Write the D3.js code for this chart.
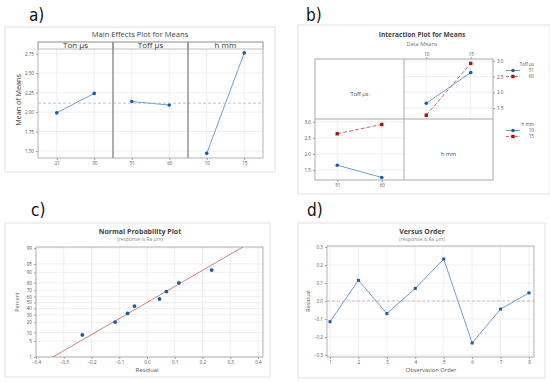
<!DOCTYPE html>
<html>
<head>
<meta charset="utf-8">
<script src="https://cdnjs.cloudflare.com/ajax/libs/d3/7.8.5/d3.min.js"></script>
<style>
  body { margin: 0; background: #fff; }
  svg { display: block; }
</style>
</head>
<body>
<script>
// ---- data ----
var factorNames = ["Ton µs", "Toff µs", "h mm"];
var factorLevels = [["21", "30"], ["51", "60"], ["10", "15"]];
var factorMeans = [[1.99, 2.24], [2.135, 2.09], [1.47, 2.76]];
var grandMean = 2.115;
var meanTicks = [1.5, 1.75, 2.0, 2.25, 2.5, 2.75];

var toffLevels = ["51", "60"];
var hLevels = ["10", "15"];
// cell means: rows Toff 51 / 60, columns h 10 / 15
var toff51Means = [1.65, 2.63];
var toff60Means = [1.27, 2.92];
var interTicks = [1.5, 2.0, 2.5, 3.0];

var observationOrder = [1, 2, 3, 4, 5, 6, 7, 8];
var residuals = [-0.115, 0.115, -0.07, 0.07, 0.233, -0.233, -0.045, 0.045];
var plotPercents = [8.3, 20.2, 32.1, 44.0, 55.9, 67.9, 79.8, 91.7];
var percentTicks = [1, 5, 10, 20, 30, 40, 50, 60, 70, 80, 90, 95, 99];
var residualTicks = [-0.4, -0.3, -0.2, -0.1, 0.0, 0.1, 0.2, 0.3, 0.4];
var orderResidualTicks = [-0.3, -0.2, -0.1, 0.0, 0.1, 0.2, 0.3];

var blueDot = "#1b5aa6", blueLine = "#6fa0d0";
var redDot = "#a31515", redLine = "#c46a6a";
var gridCol = "#e6e6e6", frameCol = "#a0a0a0", textCol = "#555";

var svg = d3.select("body").append("svg")
  .attr("width", 550).attr("height", 382)
  .style("font-family", "'Open Sans', 'Noto Sans', sans-serif");

function label(g, x, y, s, size, opt) {
  opt = opt || {};
  return g.append("text")
    .attr("x", x).attr("y", y)
    .attr("text-anchor", opt.anchor || "middle")
    .attr("font-size", size)
    .attr("font-weight", opt.weight || "normal")
    .attr("fill", opt.fill || textCol)
    .attr("transform", opt.rotate ? "rotate(-90," + x + "," + y + ")" : null)
    .text(s);
}

function styleAxis(g) {
  g.select(".domain").remove();
  g.selectAll(".tick line").attr("stroke", frameCol);
  g.selectAll(".tick text").attr("fill", textCol).attr("font-size", 4.6)
    .attr("font-family", "'Open Sans', sans-serif");
}

function panelLetter(x, y, s) {
  svg.append("text").attr("x", x).attr("y", y)
    .attr("font-size", 17)
    .attr("font-family", "'Liberation Sans Narrow', 'DejaVu Sans Condensed', sans-serif")
    .attr("fill", "#111").text(s);
}

function outerBox(x, y, w, h) {
  svg.append("rect").attr("x", x).attr("y", y).attr("width", w).attr("height", h)
    .attr("fill", "#fff").attr("stroke", "#e2e2e2").attr("stroke-width", 1);
}

// ================= a) Main Effects =================
panelLetter(29, 21, "a)");
outerBox(5, 27, 270, 145);
label(svg, 140, 37, "Main Effects Plot for Means", 7.6, { fill: "#444" });

var aTop = 42, aBot = 158, strip = 7;
var panelX = d3.scaleBand().domain(factorNames).range([38, 263]);
var ya = d3.scaleLinear().domain([1.41, 2.81]).range([aBot, aTop + strip]);

var ga = svg.append("g");
ga.selectAll(".hgrid").data(meanTicks).enter().append("line")
  .attr("x1", 38).attr("x2", 263)
  .attr("y1", function (d) { return ya(d); }).attr("y2", function (d) { return ya(d); })
  .attr("stroke", gridCol).attr("stroke-width", 0.6);

factorNames.forEach(function (name, i) {
  var x0 = panelX(name);
  var xs = d3.scalePoint().domain(factorLevels[i]).range([x0, x0 + panelX.bandwidth()]).padding(0.5);
  factorLevels[i].forEach(function (lv) {
    ga.append("line").attr("x1", xs(lv)).attr("x2", xs(lv))
      .attr("y1", aTop + strip).attr("y2", aBot)
      .attr("stroke", gridCol).attr("stroke-width", 0.6);
  });
  ga.append("g").attr("transform", "translate(0," + aBot + ")")
    .call(d3.axisBottom(xs).tickSize(2).tickPadding(2)).call(styleAxis);
  var pts = factorLevels[i].map(function (lv, j) { return [xs(lv), ya(factorMeans[i][j])]; });
  ga.append("path").attr("d", d3.line()(pts)).attr("fill", "none")
    .attr("stroke", blueLine).attr("stroke-width", 1);
  ga.selectAll(null).data(pts).enter().append("circle")
    .attr("cx", function (d) { return d[0]; }).attr("cy", function (d) { return d[1]; })
    .attr("r", 1.8).attr("fill", blueDot);
  // strip header
  ga.append("rect").attr("x", x0).attr("y", aTop).attr("width", panelX.bandwidth()).attr("height", strip)
    .attr("fill", "#fff").attr("stroke", frameCol).attr("stroke-width", 0.7);
  label(ga, x0 + panelX.bandwidth() / 2, aTop + 6.3, name, 8, { fill: "#333" });
});

ga.append("line").attr("x1", 38).attr("x2", 263)
  .attr("y1", ya(grandMean)).attr("y2", ya(grandMean))
  .attr("stroke", "#aaa").attr("stroke-width", 0.7).attr("stroke-dasharray", "3,2");

ga.append("rect").attr("x", 38).attr("y", aTop).attr("width", 225).attr("height", aBot - aTop)
  .attr("fill", "none").attr("stroke", frameCol).attr("stroke-width", 0.8);
factorNames.slice(1).forEach(function (name) {
  ga.append("line").attr("x1", panelX(name)).attr("x2", panelX(name))
    .attr("y1", aTop).attr("y2", aBot).attr("stroke", "#8a8a8a").attr("stroke-width", 1.4);
});
ga.append("g").attr("transform", "translate(38,0)")
  .call(d3.axisLeft(ya).tickValues(meanTicks).tickFormat(d3.format(".2f")).tickSize(2).tickPadding(2))
  .call(styleAxis);
label(svg, 21, 100, "Mean of Means", 7.2, { rotate: true, fill: "#333" });

// ================= b) Interaction =================
panelLetter(306, 21, "b)");
outerBox(298, 25, 252, 169);
label(svg, 422, 37, "Interaction Plot for Means", 6.6, { weight: "bold", fill: "#444" });
label(svg, 422, 45.5, "Data Means", 5.6, { fill: "#777" });

var bL = 315, bM = 404, bR = 493, bT = 59, bC = 119, bB = 180;
var gb = svg.append("g");

// top-right: mean vs h, lines by Toff
var xTR = d3.scalePoint().domain(hLevels).range([bM, bR]).padding(0.5);
var yTR = d3.scaleLinear().domain([1.15, 3.06]).range([bC, bT]);
// bottom-left: mean vs Toff, lines by h
var xBL = d3.scalePoint().domain(toffLevels).range([bL, bM]).padding(0.5);
var yBL = d3.scaleLinear().domain([1.19, 3.09]).range([bB, bC]);

function cellGrid(xs, ys, x0, x1, y0, y1) {
  interTicks.forEach(function (t) {
    if (ys(t) > y0 && ys(t) < y1)
      gb.append("line").attr("x1", x0).attr("x2", x1).attr("y1", ys(t)).attr("y2", ys(t))
        .attr("stroke", gridCol).attr("stroke-width", 0.6);
  });
  xs.domain().forEach(function (lv) {
    gb.append("line").attr("x1", xs(lv)).attr("x2", xs(lv)).attr("y1", y0).attr("y2", y1)
      .attr("stroke", gridCol).attr("stroke-width", 0.6);
  });
}
cellGrid(xTR, yTR, bM, bR, bT, bC);
cellGrid(xBL, yBL, bL, bM, bC, bB);

function series(xs, ys, levels, vals, col, dot, dashed, square) {
  var pts = levels.map(function (lv, j) { return [xs(lv), ys(vals[j])]; });
  gb.append("path").attr("d", d3.line()(pts)).attr("fill", "none")
    .attr("stroke", col).attr("stroke-width", 1)
    .attr("stroke-dasharray", dashed ? "4,2" : null);
  pts.forEach(function (p) {
    if (square) gb.append("rect").attr("x", p[0] - 1.7).attr("y", p[1] - 1.7).attr("width", 3.4).attr("height", 3.4).attr("fill", dot);
    else gb.append("circle").attr("cx", p[0]).attr("cy", p[1]).attr("r", 1.8).attr("fill", dot);
  });
}
series(xTR, yTR, hLevels, toff51Means, blueLine, blueDot, false, false);
series(xTR, yTR, hLevels, toff60Means, redLine, redDot, true, true);
series(xBL, yBL, toffLevels, [toff51Means[0], toff60Means[0]], blueLine, blueDot, false, false);
series(xBL, yBL, toffLevels, [toff51Means[1], toff60Means[1]], redLine, redDot, true, true);

gb.append("rect").attr("x", bL).attr("y", bT).attr("width", bR - bL).attr("height", bB - bT)
  .attr("fill", "none").attr("stroke", frameCol).attr("stroke-width", 0.9);
gb.append("line").attr("x1", bM).attr("x2", bM).attr("y1", bT).attr("y2", bB).attr("stroke", frameCol).attr("stroke-width", 0.9);
gb.append("line").attr("x1", bL).attr("x2", bR).attr("y1", bC).attr("y2", bC).attr("stroke", frameCol).attr("stroke-width", 0.9);

gb.append("g").attr("transform", "translate(0," + bT + ")")
  .call(d3.axisTop(xTR).tickSize(2).tickPadding(1.5)).call(styleAxis);
gb.append("g").attr("transform", "translate(" + bR + ",0)")
  .call(d3.axisRight(yTR).tickValues(interTicks).tickFormat(d3.format(".1f")).tickSize(2).tickPadding(2)).call(styleAxis);
gb.append("g").attr("transform", "translate(" + bL + ",0)")
  .call(d3.axisLeft(yBL).tickValues(interTicks).tickFormat(d3.format(".1f")).tickSize(2).tickPadding(2)).call(styleAxis);
gb.append("g").attr("transform", "translate(0," + bB + ")")
  .call(d3.axisBottom(xBL).tickSize(2).tickPadding(1.5)).call(styleAxis);

label(gb, (bL + bM) / 2, 96, "Toff µs", 5.6, { fill: "#444" });
label(gb, (bM + bR) / 2, 156, "h mm", 5.6, { fill: "#444" });

function legend(y, title, levels) {
  label(gb, 534, y, title, 4.6, { anchor: "end", fill: "#555" });
  levels.forEach(function (lv, j) {
    var yy = y + 6 + j * 6;
    var col = j === 0 ? blueLine : redLine, dot = j === 0 ? blueDot : redDot;
    gb.append("line").attr("x1", 506).attr("x2", 520).attr("y1", yy - 1.5).attr("y2", yy - 1.5)
      .attr("stroke", col).attr("stroke-width", 1).attr("stroke-dasharray", j === 0 ? null : "3,1.5");
    if (j === 0) gb.append("circle").attr("cx", 513).attr("cy", yy - 1.5).attr("r", 1.8).attr("fill", dot);
    else gb.append("rect").attr("x", 511.3).attr("y", yy - 3.2).attr("width", 3.4).attr("height", 3.4).attr("fill", dot);
    label(gb, 534, yy, lv, 4.6, { anchor: "end", fill: "#555" });
  });
}
legend(66, "Toff µs", toffLevels);
legend(126, "h mm", hLevels);

// ================= c) Normal probability =================
function probit(p) {
  var a = [-39.69683028665376, 220.9460984245205, -275.9285104469687, 138.3577518672690, -30.66479806614716, 2.506628277459239];
  var b = [-54.47609879822406, 161.5858368580409, -155.6989798598866, 66.80131188771972, -13.28068155288572];
  var c = [-0.007784894002430293, -0.3223964580411365, -2.400758277161838, -2.549732539343734, 4.374664141464968, 2.938163982698783];
  var d = [0.007784695709041462, 0.3224671290700398, 2.445134137142996, 3.754408661907416];
  var q, r;
  if (p < 0.02425) {
    q = Math.sqrt(-2 * Math.log(p));
    return (((((c[0] * q + c[1]) * q + c[2]) * q + c[3]) * q + c[4]) * q + c[5]) / ((((d[0] * q + d[1]) * q + d[2]) * q + d[3]) * q + 1);
  }
  if (p > 1 - 0.02425) return -probit(1 - p);
  q = p - 0.5; r = q * q;
  return (((((a[0] * r + a[1]) * r + a[2]) * r + a[3]) * r + a[4]) * r + a[5]) * q / (((((b[0] * r + b[1]) * r + b[2]) * r + b[3]) * r + b[4]) * r + 1);
}

panelLetter(31, 216, "c)");
outerBox(5, 223, 265, 154);
label(svg, 140, 233.5, "Normal Probability Plot", 7, { weight: "bold", fill: "#444" });
label(svg, 140, 241, "(response is Ra µm)", 5, { fill: "#888" });

var cL = 36, cR = 263, cT = 247, cB = 357;
var xc = d3.scaleLinear().domain([-0.4, 0.4]).range([36, 258]);
var zc = d3.scaleLinear().domain([probit(0.01), probit(0.99)]).range([cB, 248]);
function yc(pct) { return zc(probit(pct / 100)); }

var gc = svg.append("g");
residualTicks.forEach(function (t) {
  gc.append("line").attr("x1", xc(t)).attr("x2", xc(t)).attr("y1", cT).attr("y2", cB)
    .attr("stroke", gridCol).attr("stroke-width", 0.6);
});
percentTicks.forEach(function (t) {
  gc.append("line").attr("x1", cL).attr("x2", cR).attr("y1", yc(t)).attr("y2", yc(t))
    .attr("stroke", gridCol).attr("stroke-width", 0.6);
});

gc.append("clipPath").attr("id", "clipc").append("rect")
  .attr("x", cL).attr("y", cT).attr("width", cR - cL).attr("height", cB - cT);
var mu = d3.mean(residuals), sd = d3.deviation(residuals);
var zLo = zc.invert(cB + 2), zHi = zc.invert(cT - 2);
gc.append("path").attr("clip-path", "url(#clipc)")
  .attr("d", d3.line()([[xc(mu + sd * zLo), zc(zLo)], [xc(mu + sd * zHi), zc(zHi)]]))
  .attr("stroke", "#c98585").attr("stroke-width", 1).attr("fill", "none");

var sortedRes = d3.sort(residuals);
gc.selectAll(null).data(sortedRes).enter().append("circle")
  .attr("cx", function (d) { return xc(d); })
  .attr("cy", function (d, i) { return yc(plotPercents[i]); })
  .attr("r", 1.9).attr("fill", blueDot);

gc.append("rect").attr("x", cL).attr("y", cT).attr("width", cR - cL).attr("height", cB - cT)
  .attr("fill", "none").attr("stroke", frameCol).attr("stroke-width", 0.8);
gc.append("g").attr("transform", "translate(0," + cB + ")")
  .call(d3.axisBottom(xc).tickValues(residualTicks).tickFormat(d3.format(".1f")).tickSize(2).tickPadding(2))
  .call(styleAxis);
var yAxisC = d3.scaleLinear().domain(zc.domain()).range(zc.range());
gc.append("g").attr("transform", "translate(" + cL + ",0)")
  .call(d3.axisLeft(yAxisC).tickValues(percentTicks.map(function (p) { return probit(p / 100); }))
    .tickFormat(function (z, i) { return percentTicks[i]; }).tickSize(2).tickPadding(2))
  .call(styleAxis);
label(svg, 147, 372, "Residual", 5.8, { fill: "#555" });
label(svg, 19, 302, "Percent", 5.4, { rotate: true, fill: "#555" });

// ================= d) Versus order =================
panelLetter(307, 216, "d)");
outerBox(298, 223, 247, 155);
label(svg, 422, 233.5, "Versus Order", 7, { weight: "bold", fill: "#444" });
label(svg, 422, 241, "(response is Ra µm)", 5, { fill: "#888" });

var dL = 327, dR = 534, dT = 246, dB = 357;
var xd = d3.scaleLinear().domain([1, 8]).range([330, 529]);
var yd = d3.scaleLinear().domain([-0.3, 0.3]).range([355, 247]);
var gd = svg.append("g");
observationOrder.forEach(function (t) {
  gd.append("line").attr("x1", xd(t)).attr("x2", xd(t)).attr("y1", dT).attr("y2", dB)
    .attr("stroke", gridCol).attr("stroke-width", 0.6);
});
orderResidualTicks.forEach(function (t) {
  gd.append("line").attr("x1", dL).attr("x2", dR).attr("y1", yd(t)).attr("y2", yd(t))
    .attr("stroke", gridCol).attr("stroke-width", 0.6);
});
gd.append("line").attr("x1", dL).attr("x2", dR).attr("y1", yd(0)).attr("y2", yd(0))
  .attr("stroke", "#c4a4a4").attr("stroke-width", 0.7).attr("stroke-dasharray", "3,2");
gd.append("path")
  .attr("d", d3.line().x(function (d, i) { return xd(observationOrder[i]); }).y(function (d) { return yd(d); })(residuals))
  .attr("fill", "none").attr("stroke", blueLine).attr("stroke-width", 1);
gd.selectAll(null).data(residuals).enter().append("rect")
  .attr("x", function (d, i) { return xd(observationOrder[i]) - 1.5; })
  .attr("y", function (d) { return yd(d) - 1.5; })
  .attr("width", 3).attr("height", 3).attr("fill", blueDot);
gd.append("rect").attr("x", dL).attr("y", dT).attr("width", dR - dL).attr("height", dB - dT)
  .attr("fill", "none").attr("stroke", frameCol).attr("stroke-width", 0.8);
gd.append("g").attr("transform", "translate(0," + dB + ")")
  .call(d3.axisBottom(xd).tickValues(observationOrder).tickFormat(d3.format("d")).tickSize(2).tickPadding(2))
  .call(styleAxis);
gd.append("g").attr("transform", "translate(" + dL + ",0)")
  .call(d3.axisLeft(yd).tickValues(orderResidualTicks).tickFormat(d3.format(".1f")).tickSize(2).tickPadding(2))
  .call(styleAxis);
label(svg, 431, 372, "Observation Order", 5.8, { fill: "#555" });
label(svg, 310, 301, "Residual", 5.4, { rotate: true, fill: "#555" });
</script>
</body>
</html>
